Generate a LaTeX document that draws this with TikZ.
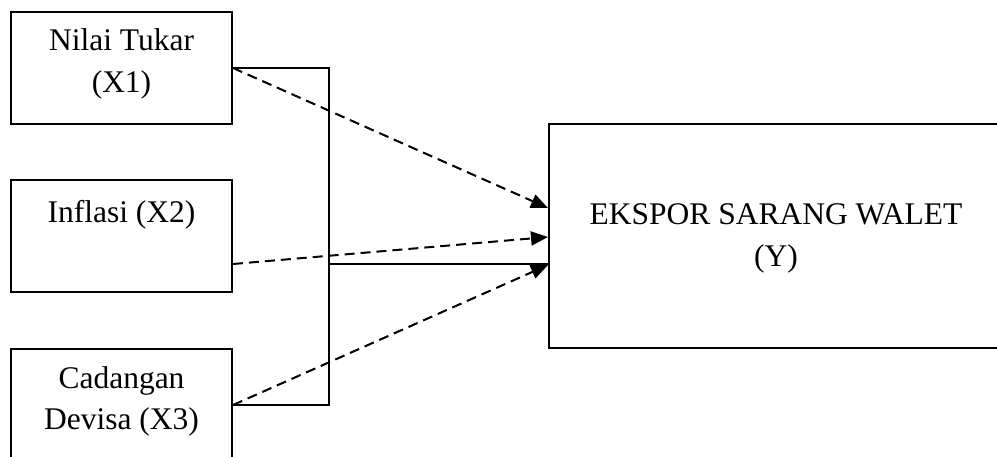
\documentclass[tikz,border=0pt]{standalone}
\usepackage{fontspec}
\setmainfont{Liberation Serif}
\usetikzlibrary{arrows.meta}
\begin{document}
\begin{tikzpicture}[x=1pt, y=-1pt, line width=2pt,
  box/.style={draw, rectangle, minimum width=221pt, minimum height=112pt, inner sep=0pt},
  lbl/.style={align=center, inner sep=0pt, font=\fontsize{31.5}{41.5}\selectfont},
  dsh/.style={dash pattern=on 10pt off 6pt, -{Triangle[length=17pt,width=14pt]}}]
\clip (0,0) rectangle (997,457);
\node[box] (X1) at (121.5,68) {};
\node[box] (X2) at (121.5,236.5) {};
\node[box] (X3) at (121.5,405) {};
\node[box, minimum width=460pt, minimum height=224pt] (Y) at (779,236) {};
\node[lbl] (T1) at (121.5,64) {Nilai Tukar\\(X1)};
\node[lbl] (T2) at (121.5,214.5) {Inflasi (X2)};
\node[lbl] (T3) at (121.5,401.5) {Cadangan\\Devisa (X3)};
\node[lbl] (TY) at (776,238.5) {EKSPOR SARANG WALET\\(Y)};
\coordinate (B1) at (329,68);
\coordinate (B2) at (329,264);
\coordinate (B3) at (329,405);
\draw (X1.east) -- (B1) -- (B3) -- (X3.east);
\draw (B2) -- (Y.west |- B2);
\draw[dsh] (X1.east) -- ([yshift=28pt]Y.west);
\draw[dsh] ([yshift=-27.5pt]X2.east) -- ([yshift=-1pt]Y.west);
\draw[dsh] (X3.east) -- ([yshift=-29pt]Y.west);
\end{tikzpicture}
\end{document}
